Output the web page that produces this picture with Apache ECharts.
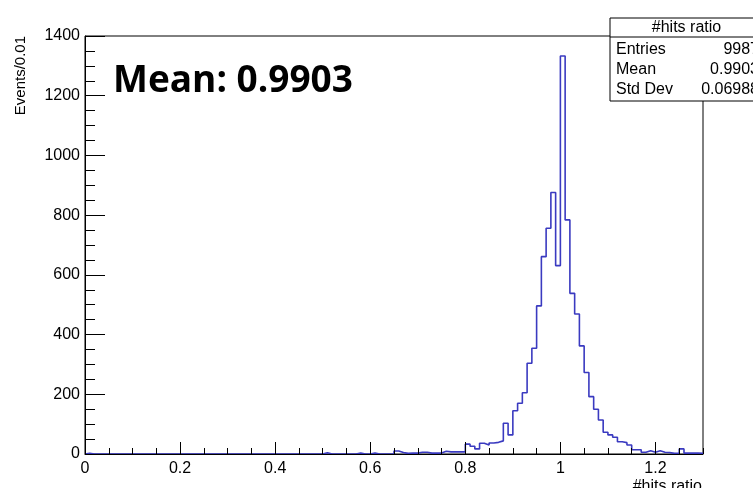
<!DOCTYPE html>
<html>
<head>
<meta charset="utf-8">
<script src="https://cdn.jsdelivr.net/npm/echarts@6/dist/echarts.min.js"></script>
<style>
html,body{margin:0;padding:0;background:#fff;}
#chart{width:753px;height:488px;}
</style>
</head>
<body>
<div id="chart"></div>
<script>
// Histogram "#hits ratio": 130 bins of width 0.01 from 0 to 1.3
const binStart = 0;
const binWidth = 0.01;
const counts = [
  2,0,0,0,0,0,0,0,0,0,
  0,0,0,0,0,0,0,0,0,0,
  0,0,0,0,0,0,0,0,0,0,
  0,0,0,0,0,0,0,0,0,0,
  0,0,0,0,0,0,0,0,0,0,
  4,0,0,0,0,0,0,3,0,0,
  3,0,0,0,0,10,5,2,3,3,
  6,6,3,3,3,9,7,7,7,7,
  33,26,17,36,30,37,39,44,103,64,
  145,170,205,304,354,496,661,756,876,631,
  1333,784,538,469,362,273,192,150,114,73,
  64,56,41,38,30,14,14,6,11,6,
  11,6,5,2,2,17,3,3,3,2
];
const xTickLabels = ['0','0.2','0.4','0.6','0.8','1','1.2'];
const yTickLabels = ['0','200','400','600','800','1000','1200','1400'];
const statLabels = ['Entries','Mean','Std Dev'];
const statValues = ['9987','0.9903','0.06988'];
const histTitle = '#hits ratio';
const yTitle = 'Events/0.01';
const xTitle = '#hits ratio';
const meanNote = 'Mean: 0.9903';

const xMin = 0, xMax = 1.3, yMin = 0, yMax = 1400;

// step outline built from bin left edges
const stepData = [[binStart, 0]];
counts.forEach((c, i) => stepData.push([+(binStart + i * binWidth).toFixed(4), c]));
stepData.push([+(binStart + counts.length * binWidth).toFixed(4), counts[counts.length - 1]]);

const font = 'Liberation Sans, Arial, Helvetica, sans-serif';
const chart = echarts.init(document.getElementById('chart'), null, {renderer: 'canvas'});

const statGraphics = [];
const boxX = 610, boxY = 18, boxW = 153, rowH = 20;
statGraphics.push({type:'rect', shape:{x:boxX, y:boxY, width:boxW, height:83},
  style:{fill:'#fff', stroke:'#000', lineWidth:1}, z:10});
statGraphics.push({type:'line', shape:{x1:boxX, y1:boxY+19, x2:boxX+boxW, y2:boxY+19},
  style:{stroke:'#000', lineWidth:1}, z:11});
statGraphics.push({type:'text', x:boxX+boxW/2, y:boxY+10, z:11,
  style:{text:histTitle, font:'16px ' + font, fill:'#000', align:'center', verticalAlign:'middle'}});
statLabels.forEach((l, i) => {
  statGraphics.push({type:'text', x:boxX+6, y:boxY+32+i*rowH, z:11,
    style:{text:l, font:'16px ' + font, fill:'#000', align:'left', verticalAlign:'middle'}});
  statGraphics.push({type:'text', x:boxX+boxW-4, y:boxY+32+i*rowH, z:11,
    style:{text:statValues[i], font:'16px ' + font, fill:'#000', align:'right', verticalAlign:'middle'}});
});

const option = {
  animation: false,
  backgroundColor: '#fff',
  grid: {left: 85, top: 36, right: 50, bottom: 34, show: true, borderColor: '#000', borderWidth: 1, backgroundColor: 'transparent'},
  xAxis: [
    {type:'value', min:xMin, max:xMax, interval:0.2, position:'bottom', z:3,
      axisLine:{show:true, lineStyle:{color:'#000', width:1}},
      axisTick:{show:true, inside:true, length:12, lineStyle:{color:'#000', width:1}},
      splitLine:{show:false},
      axisLabel:{show:true, margin:7, color:'#000', fontSize:16, fontFamily:font, showMaxLabel:false,
        formatter: v => { const idx = Math.round(v / 0.2); return xTickLabels[idx] !== undefined ? xTickLabels[idx] : ''; }}},
    {type:'value', min:xMin, max:xMax, interval:0.05, position:'bottom', z:3,
      axisLine:{show:false},
      axisTick:{show:true, inside:true, length:6, lineStyle:{color:'#000', width:1}},
      splitLine:{show:false}, axisLabel:{show:false}}
  ],
  yAxis: {type:'value', min:yMin, max:yMax, interval:200, z:3,
    axisLine:{show:true, lineStyle:{color:'#000', width:1}},
    axisTick:{show:true, inside:true, length:20, lineStyle:{color:'#000', width:1}},
    minorTick:{show:true, splitNumber:4, length:10, lineStyle:{color:'#000', width:1}},
    splitLine:{show:false},
    axisLabel:{show:true, margin:5, color:'#000', fontSize:16, fontFamily:font,
      formatter: v => { const idx = Math.round(v / 200); return yTickLabels[idx] !== undefined ? yTickLabels[idx] : ''; }}},
  series: [{
    type:'line', xAxisIndex:0, yAxisIndex:0, step:'end', data:stepData,
    symbol:'none', z:2,
    lineStyle:{color:'#3a3ac0', width:1.6}
  }],
  graphic: [
    {type:'text', x:21, y:36, rotation:Math.PI/2, z:5,
      style:{text:yTitle, font:'15px ' + font, fill:'#000', align:'right', verticalAlign:'middle'}},
    {type:'text', x:702, y:479, z:5,
      style:{text:xTitle, font:'16px ' + font, fill:'#000', align:'right', verticalAlign:'top'}},
    {type:'text', x:113, y:81, z:5,
      style:{text:meanNote, font:'bold 37px "Open Sans", sans-serif', fill:'#000', align:'left', verticalAlign:'middle'}}
  ].concat(statGraphics)
};
chart.setOption(option);
</script>
</body>
</html>
